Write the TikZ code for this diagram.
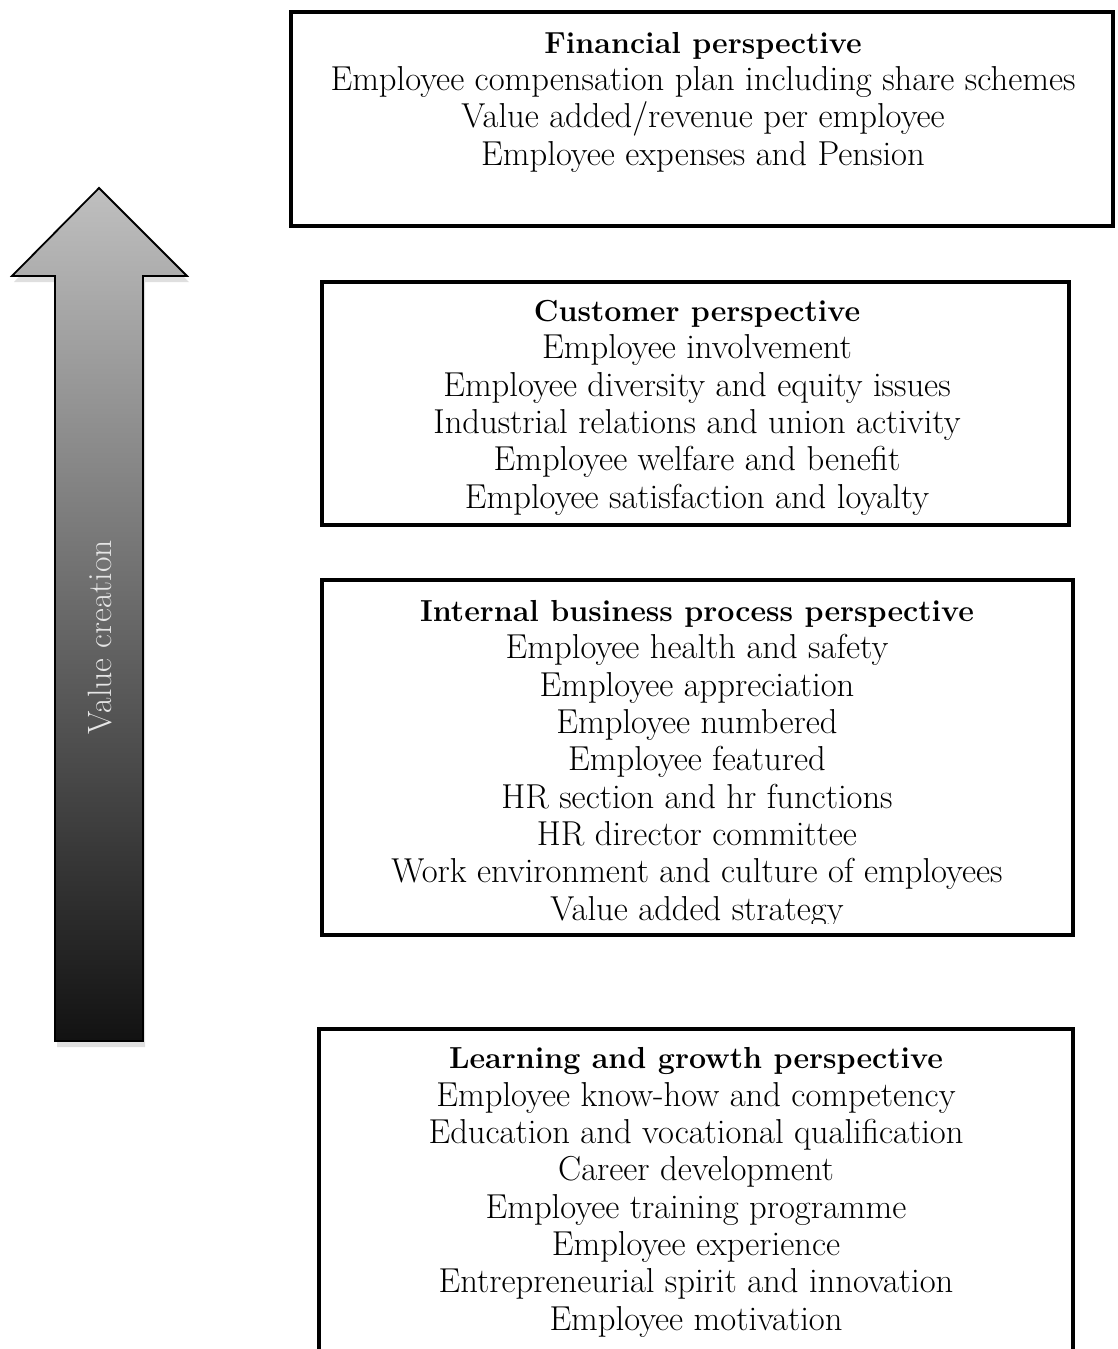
\documentclass[tikz,border=0pt]{standalone}
\usepackage{tikz}
\usetikzlibrary{positioning,shadows}

\newcommand{\ptitle}[1]{{\fontsize{15.2}{18.65}\selectfont\bfseries #1}}
\tikzset{
	pbox/.style={draw=black,line width=2pt,rectangle,inner sep=0pt},
	ptext/.style={align=center,inner sep=0pt,anchor=base,
		font=\fontsize{17.3}{18.65}\selectfont}
}

\begin{document}
\begin{tikzpicture}[x=0.5pt,y=-0.5pt]
	\useasboundingbox (0,0) rectangle (1118,1349);
	% value creation arrow
	\path[draw=black,line width=0.9pt,line join=miter,
		shading=axis,top color=black!25,middle color=black!52,bottom color=black!93,
		drop shadow={opacity=0.25,shadow xshift=1pt,shadow yshift=-3pt}]
	(99,188) -- (187,276) -- (143,276) -- (143,1041) -- (55,1041) -- (55,276) -- (12,276) -- cycle;
	\node[rotate=90,text=black!10,inner sep=0pt,font=\fontsize{16.9}{18.65}\selectfont] (vc) at (100,637) {Value creation};
	% perspective boxes
	\node[pbox,minimum width=411pt,minimum height=107pt] (fin) at (702,119) {};
	\node[pbox,minimum width=373.5pt,minimum height=121.5pt] (cust) at (695.5,403.5) {};
	\node[pbox,minimum width=375.5pt,minimum height=177.5pt] (intl) at (697.5,757.5) {};
	\node[pbox,minimum width=377pt,minimum height=175.5pt] (learn) at (696,1204.5) {};
	% texts, placed by the baseline of their last line
	\node[ptext] (finT) at (703,165) {\ptitle{Financial perspective}\\
		Employee compensation plan including share schemes\\
		Value added/revenue per employee\\
		Employee expenses and Pension};
	\node[ptext] (custT) at (697,508) {\ptitle{Customer perspective}\\
		Employee involvement\\
		Employee diversity and equity issues\\
		Industrial relations and union activity\\
		Employee welfare and benefit\\
		Employee satisfaction and loyalty};
	\begin{scope}
		\clip (322,580) rectangle (1073,923);
		\node[ptext] (intlT) at (697,920) {\ptitle{Internal business process perspective}\\
			Employee health and safety\\
			Employee appreciation\\
			Employee numbered\\
			Employee featured\\
			HR section and hr functions\\
			HR director committee\\
			Work environment and culture of employees\\
			Value added strategy};
	\end{scope}
	\node[ptext] (learnT) at (696,1330) {\ptitle{Learning and growth perspective}\\
		Employee know-how and competency\\
		Education and vocational qualification\\
		Career development\\
		Employee training programme\\
		Employee experience\\
		Entrepreneurial spirit and innovation\\
		Employee motivation};
\end{tikzpicture}
\end{document}
